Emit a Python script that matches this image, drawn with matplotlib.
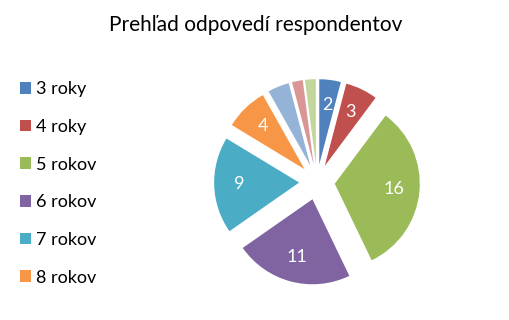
import matplotlib
matplotlib.use("Agg")
import matplotlib.pyplot as plt
import numpy as np

# data
labels = ["3 roky", "4 roky", "5 rokov", "6 rokov", "7 rokov", "8 rokov",
          "9 rokov", "10 rokov", "11 rokov"]
values = [2, 3, 16, 11, 9, 4, 2, 1, 1]
colors = ["#4F81BD", "#C0504D", "#9BBB59", "#8064A2", "#4BACC6", "#F79646",
          "#95B3D7", "#D99694", "#C3D69B"]
shown = 6  # legend and value labels are cut off after "8 rokov"

plt.rcParams['font.family'] = ['Lato', 'DejaVu Sans']

fig = plt.figure(figsize=(5.1, 3.2), dpi=100)
fig.patch.set_facecolor('white')

# pie centre ~ (317, 182) px, radius ~ 85 px
W, H = 510, 320
cx, cy, half = 317, 182, 120
ax = fig.add_axes([(cx - half) / W, (H - cy - half) / H, 2 * half / W, 2 * half / H])

off = 0.21
wedges, _ = ax.pie(values, colors=colors, startangle=90, counterclock=False,
                   explode=[off] * len(values), radius=1.0)
for i, w in enumerate(wedges[:shown]):
    ang = np.deg2rad((w.theta1 + w.theta2) / 2)
    r = off + 0.7
    ax.text(r * np.cos(ang), r * np.sin(ang), str(values[i]), color='white',
            fontsize=13, ha='center', va='center')

lim = half / 85
ax.set_xlim(-lim, lim)
ax.set_ylim(-lim, lim)
ax.set_aspect('equal')
ax.axis('off')

fig.text(256 / W, 1 - 25 / H, "Prehľad odpovedí respondentov", fontsize=15,
         ha='center', va='center', color='black')

fig.legend(wedges[:shown], labels[:shown],
           loc='upper left', bbox_to_anchor=(4 / W, 1 - 65 / H),
           frameon=False, fontsize=13, handlelength=0.6, handleheight=0.6,
           handletextpad=0.3, labelspacing=1.2)

fig.savefig("out.png", dpi=100, facecolor='white')
